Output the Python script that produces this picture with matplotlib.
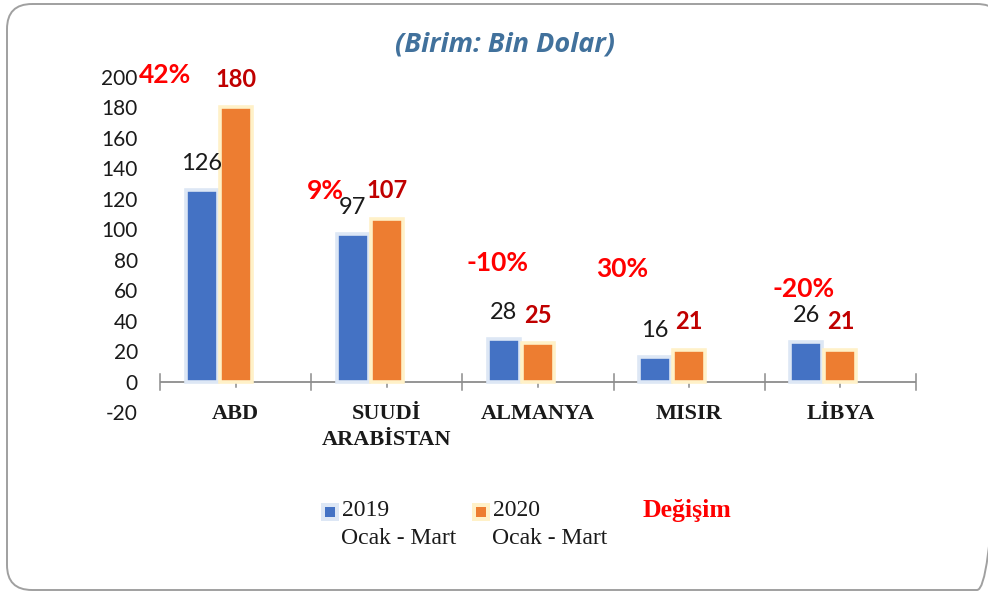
import matplotlib
matplotlib.use("Agg")
import matplotlib.pyplot as plt
import numpy as np
from matplotlib.patches import FancyBboxPatch, Rectangle
from matplotlib.ticker import FixedLocator

plt.rcParams["axes.unicode_minus"] = False

categories = ["ABD", "SUUDİ\nARABİSTAN", "ALMANYA", "MISIR", "LİBYA"]
values_2019 = [126, 97, 28, 16, 26]
values_2020 = [180, 107, 25, 21, 21]
change_labels = ["42%", "9%", "-10%", "30%", "-20%"]
# approximate anchor heights/offsets of the change labels (data units)
change_y = [201, 125, 78, 74, 61]
change_dx = [-0.467, -0.409, -0.271, -0.444, -0.241]
legend_labels = ["2019\nOcak - Mart", "2020\nOcak - Mart", "Değişim"]
title = "(Birim: Bin Dolar)"
yticks = list(range(-20, 201, 20))

BLUE = "#4472c4"
ORANGE = "#ed7d31"
BLUE_GLOW = "#dde7f5"
ORANGE_GLOW = "#fff1c8"
DARKRED = "#c00000"
RED = "#ff0000"
SERIF = ["Liberation Serif", "DejaVu Serif"]
SANS = ["Lato", "DejaVu Sans"]

W, H = 988, 592
fig = plt.figure(figsize=(W / 100, H / 100), dpi=100)
fig.patch.set_facecolor("white")

# background overlay axes in pixel units for frame + legend
bg = fig.add_axes([0, 0, 1, 1])
bg.set_xlim(0, W)
bg.set_ylim(H, 0)
bg.axis("off")
bg.add_patch(FancyBboxPatch((7, 4), 995, 586,
                            boxstyle="round,pad=0,rounding_size=25",
                            facecolor="none", edgecolor="#a0a0a0", linewidth=1.4,
                            clip_on=True))

ax = fig.add_axes([160 / W, (H - 412) / H, (916 - 160) / W, (412 - 77) / H])
ax.patch.set_alpha(0)
x = np.arange(len(categories))
bw = 0.212
off_2019 = -0.225
off_2020 = 0.0
ax.bar(x + off_2019, values_2019, bw, color=BLUE, edgecolor=BLUE_GLOW,
       linewidth=2.6, zorder=3)
ax.bar(x + off_2020, values_2020, bw, color=ORANGE, edgecolor=ORANGE_GLOW,
       linewidth=2.6, zorder=3)

ax.set_xlim(-0.5, len(categories) - 0.5)
ax.set_ylim(-20, 200)
for s in ["top", "right", "left", "bottom"]:
    ax.spines[s].set_visible(False)
ax.axhline(0, color="#8c8c8c", linewidth=1.3, zorder=2)

# category boundary ticks and center ticks drawn on the zero line
for b in np.arange(-0.5, len(categories), 1.0):
    ax.plot([b, b], [-5.5, 5], color="#8c8c8c", linewidth=1.1, clip_on=False, zorder=2)
for c in x:
    ax.plot([c, c], [-3.5, 4], color="#8c8c8c", linewidth=1.1, clip_on=False, zorder=2)

ax.set_xticks([])
ax.yaxis.set_major_locator(FixedLocator(yticks))
ax.tick_params(axis="y", length=0, pad=16, labelsize=15, labelcolor="#1a1a1a")
for lab in ax.get_yticklabels():
    lab.set_fontfamily(SANS)

# category labels
for i, c in enumerate(categories):
    ax.text(i, -14.5, c, ha="center", va="top", fontsize=16, fontweight="bold",
            family=SERIF, color="#1a1a1a", linespacing=1.42)

# value labels
for i, (a, b) in enumerate(zip(values_2019, values_2020)):
    ax.text(i + off_2019, a + 17.5, f"{a}", ha="center", va="center",
            fontsize=17, family=SANS, color="#1a1a1a")
    ax.text(i + off_2020, b + 18.5, f"{b}", ha="center", va="center",
            fontsize=17, fontweight="bold", family=SANS, color=DARKRED)

# change labels
for i, (lab, yy, dx) in enumerate(zip(change_labels, change_y, change_dx)):
    ax.text(i + dx, yy, lab, ha="center", va="center", fontsize=19,
            fontweight="bold", family=SANS, color=RED)

bg.text(505, 45, title, ha="center", va="center", fontsize=19.5,
        fontweight="bold", style="italic", family=["Open Sans", "DejaVu Sans"],
        color="#41719c")

# legend
leg_items = [(325, BLUE, BLUE_GLOW), (476, ORANGE, ORANGE_GLOW)]
for (px, col, glow), lab in zip(leg_items, legend_labels[:2]):
    bg.add_patch(Rectangle((px - 4, 503), 18, 18, facecolor=glow, edgecolor="none"))
    bg.add_patch(Rectangle((px, 507), 10, 10, facecolor=col, edgecolor="none"))
    line1, line2 = lab.split("\n")
    bg.text(px + 17, 510, line1, ha="left", va="center", fontsize=17,
            family=SERIF, color="#1a1a1a")
    bg.text(px + 16, 539, line2, ha="left", va="center", fontsize=17,
            family=SERIF, color="#1a1a1a")
bg.text(643, 510, legend_labels[2], ha="left", va="center",
        fontsize=18.5, fontweight="bold", family=SERIF, color=RED)

fig.savefig("out.png", dpi=100, facecolor="white")
